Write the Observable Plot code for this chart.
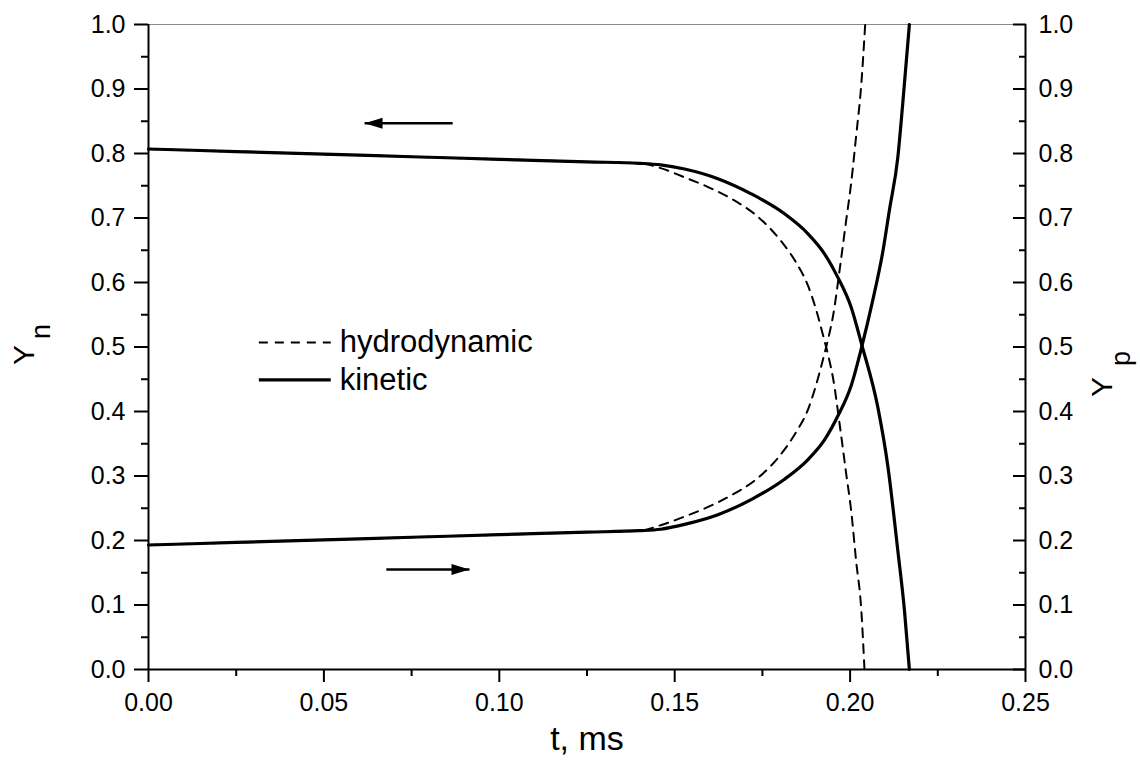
<!DOCTYPE html>
<html><head><meta charset="utf-8">
<script src="https://cdn.jsdelivr.net/npm/d3@7"></script>
<script src="https://cdn.jsdelivr.net/npm/@observablehq/plot@0.6"></script>
<style>body{margin:0;background:#fff;}</style>
</head><body><div id="chart"></div>
<script>
// ---- data ----
const tKineticN = [0, 0.025, 0.05, 0.075, 0.10, 0.125, 0.14, 0.146, 0.1528, 0.1623, 0.1718, 0.1813, 0.188, 0.1927, 0.1965, 0.2003, 0.2034, 0.2079, 0.2108, 0.2136, 0.2155, 0.2169];
const yKineticN = [0.807, 0.803, 0.799, 0.795, 0.791, 0.787, 0.7848, 0.7825, 0.776, 0.761, 0.7375, 0.7065, 0.6755, 0.6445, 0.608, 0.5617, 0.502, 0.4067, 0.3137, 0.1845, 0.0915, 0.0];

const tKineticP = [0, 0.025, 0.05, 0.075, 0.10, 0.125, 0.14, 0.146, 0.1528, 0.1623, 0.1718, 0.1813, 0.188, 0.1927, 0.1965, 0.2003, 0.2034, 0.2064, 0.2094, 0.2112, 0.2136, 0.2150, 0.2169];
const yKineticP = [0.193, 0.197, 0.201, 0.205, 0.209, 0.213, 0.2152, 0.2175, 0.225, 0.240, 0.2635, 0.295, 0.3255, 0.356, 0.393, 0.44, 0.502, 0.571, 0.65, 0.712, 0.794, 0.877, 1.0];

const tHydroN = [0, 0.025, 0.05, 0.075, 0.10, 0.125, 0.14, 0.1462, 0.1528, 0.1595, 0.1661, 0.1737, 0.1799, 0.1846, 0.188, 0.1903, 0.1922, 0.1941, 0.1952, 0.197, 0.1989, 0.2003, 0.2017, 0.2032, 0.2041];
const yHydroN = [0.807, 0.803, 0.799, 0.795, 0.791, 0.787, 0.7848, 0.777, 0.763, 0.748, 0.73, 0.702, 0.667, 0.631, 0.595, 0.558, 0.520, 0.479, 0.45, 0.381, 0.303, 0.2465, 0.169, 0.0915, 0.0];

const tHydroP = [0, 0.025, 0.05, 0.075, 0.10, 0.125, 0.14, 0.1462, 0.1528, 0.1595, 0.1661, 0.1737, 0.1799, 0.1846, 0.188, 0.1903, 0.1922, 0.1941, 0.1952, 0.197, 0.1989, 0.2003, 0.2017, 0.2032, 0.2043];
const yHydroP = [0.193, 0.197, 0.201, 0.205, 0.209, 0.213, 0.2152, 0.224, 0.237, 0.252, 0.27, 0.297, 0.331, 0.368, 0.403, 0.441, 0.479, 0.521, 0.55, 0.619, 0.697, 0.754, 0.826, 0.908, 1.0];

const xMajorTicks = [0, 0.05, 0.10, 0.15, 0.20, 0.25];
const xMinorTicks = [0.025, 0.075, 0.125, 0.175, 0.225];
const yMajorTicks = [0, 0.1, 0.2, 0.3, 0.4, 0.5, 0.6, 0.7, 0.8, 0.9, 1.0];
const yMinorTicks = [0.05, 0.15, 0.25, 0.35, 0.45, 0.55, 0.65, 0.75, 0.85, 0.95];

const arrowY = [0.847, 0.155];
const arrowFrom = [0.0867, 0.0678];
const arrowTo = [0.0616, 0.0915];

const legendNames = ["hydrodynamic", "kinetic"];
const legendY = [0.507, 0.449];

// ---- build tables ----
const zip = (ts, ys) => ts.map((t, i) => ({t, y: ys[i]}));
const kinN = zip(tKineticN, yKineticN);
const kinP = zip(tKineticP, yKineticP);
const hydN = zip(tHydroN, yHydroN);
const hydP = zip(tHydroP, yHydroP);
const arrows = arrowY.map((y, i) => ({y, from: arrowFrom[i], to: arrowTo[i]}));
const legend = legendNames.map((name, i) => ({name, y: legendY[i]}));

const headSymbol = {
  draw(ctx) { ctx.moveTo(0, 0); ctx.lineTo(-18, -5.5); ctx.lineTo(-18, 5.5); ctx.closePath(); }
};

const font = "'Liberation Sans', Arial, Helvetica, sans-serif";
const blank = () => "";
const dash = "9,7";
const tickFont = 25;

const chart = Plot.plot({
  width: 1140, height: 774,
  marginLeft: 148, marginRight: 115, marginTop: 24, marginBottom: 105,
  x: {domain: [0, 0.25]},
  y: {domain: [0, 1]},
  style: {fontFamily: font, background: "white", color: "black"},
  marks: [
    Plot.ruleY([1], {stroke: "#8a8a8a", strokeWidth: 1}),
    Plot.axisX(xMajorTicks, {anchor: "bottom", tickSize: 13, tickPadding: 11, tickFormat: d3.format(".2f"), fontSize: tickFont, strokeWidth: 2, label: null}),
    Plot.axisX(xMinorTicks, {anchor: "bottom", tickSize: 7, tickFormat: blank, strokeWidth: 2, label: null}),
    Plot.axisY(yMajorTicks, {anchor: "left", tickSize: 14, tickPadding: 9, tickFormat: d3.format(".1f"), fontSize: tickFont, strokeWidth: 2, label: null}),
    Plot.axisY(yMinorTicks, {anchor: "left", tickSize: 7, tickFormat: blank, strokeWidth: 2, label: null}),
    Plot.axisY(yMajorTicks, {anchor: "right", tickSize: -13, tickFormat: blank, strokeWidth: 2, label: null}),
    Plot.axisY(yMinorTicks, {anchor: "right", tickSize: -7, tickFormat: blank, strokeWidth: 2, label: null}),
    Plot.axisY(yMajorTicks, {anchor: "right", tickSize: 0, tickPadding: 13, tickFormat: d3.format(".1f"), fontSize: tickFont, label: null}),
    Plot.ruleX([0], {strokeWidth: 2}),
    Plot.ruleX([0.25], {strokeWidth: 2}),
    Plot.ruleY([0], {strokeWidth: 2}),
    // curves
    Plot.line(hydN, {x: "t", y: "y", curve: "monotone-x", stroke: "black", strokeWidth: 2, strokeDasharray: dash}),
    Plot.line(hydP, {x: "t", y: "y", curve: "monotone-x", stroke: "black", strokeWidth: 2, strokeDasharray: dash}),
    Plot.line(kinN, {x: "t", y: "y", curve: "monotone-x", stroke: "black", strokeWidth: 3.2}),
    Plot.line(kinP, {x: "t", y: "y", curve: "monotone-x", stroke: "black", strokeWidth: 3.2}),
    // arrows
    Plot.link(arrows, {x1: "from", x2: "to", y1: "y", y2: "y", stroke: "black", strokeWidth: 2.4}),
    Plot.dot(arrows, {x: "to", y: "y", symbol: headSymbol, r: 5, fill: "black", stroke: "none", rotate: d => d.to < d.from ? 180 : 0}),
    // legend
    Plot.ruleY(legend.slice(0, 1), {y: "y", x1: 0.0316, x2: 0.0521, stroke: "black", strokeWidth: 2, strokeDasharray: dash}),
    Plot.ruleY(legend.slice(1), {y: "y", x1: 0.0316, x2: 0.0521, stroke: "black", strokeWidth: 3.2}),
    Plot.text(legend, {x: 0.0545, y: "y", text: "name", textAnchor: "start", fontSize: 31, fill: "black"}),
    // axis titles
    Plot.text(["t, ms"], {text: d => d, frameAnchor: "bottom", dy: 80, fontSize: 34, fill: "black"}),
    Plot.text(["Y"], {text: d => d, frameAnchor: "left", dx: -124, dy: 18, rotate: -90, fontSize: 30, fill: "black"}),
    Plot.text(["n"], {text: d => d, frameAnchor: "left", dx: -107, dy: -8, rotate: -90, fontSize: 27, fill: "black"}),
    Plot.text(["Y"], {text: d => d, frameAnchor: "right", dx: 77, dy: 30, rotate: -90, fontSize: 30, fill: "black"}),
    Plot.text(["p"], {text: d => d, frameAnchor: "right", dx: 96, dy: 4, rotate: -90, fontSize: 27, fill: "black"})
  ]
});
document.getElementById("chart").appendChild(chart);
</script>
</body></html>
